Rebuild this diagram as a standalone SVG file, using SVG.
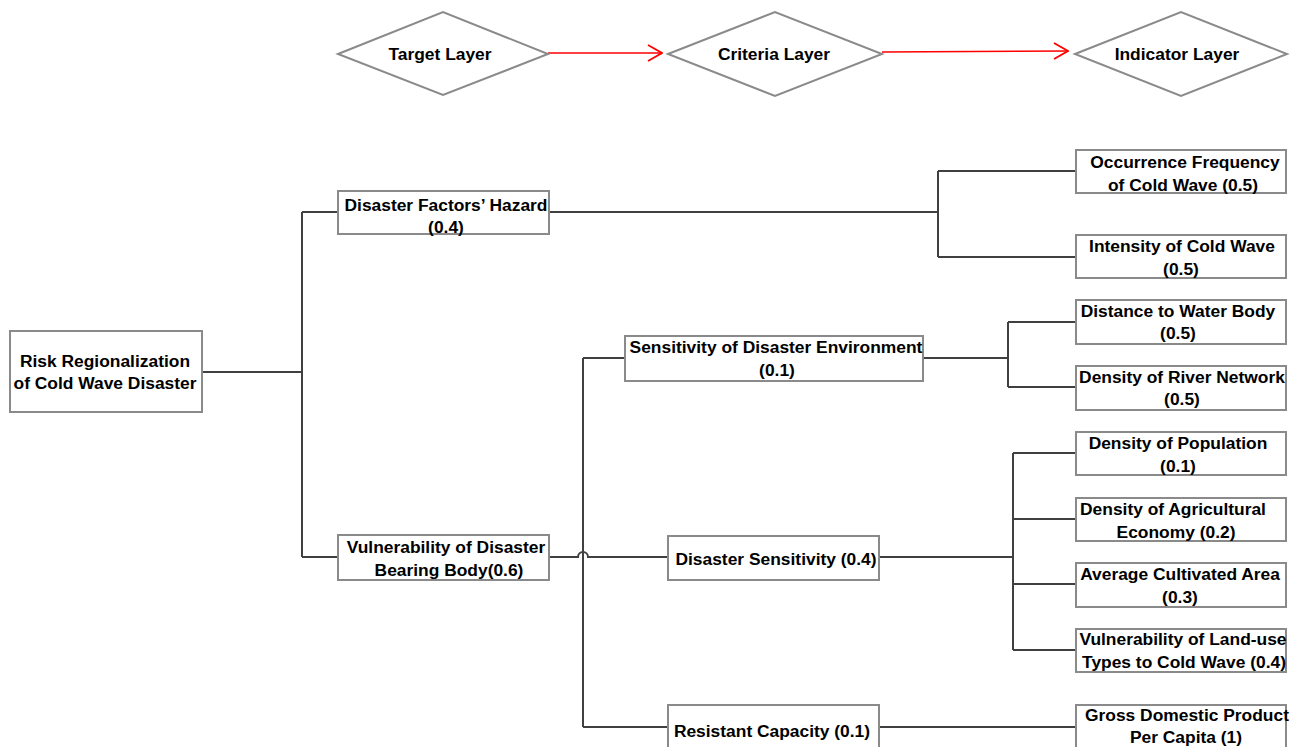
<svg xmlns="http://www.w3.org/2000/svg" width="1291" height="747" viewBox="0 0 1291 747">
<style>
.box{fill:#fff;stroke:#8a8a8a;stroke-width:2}
.dia{fill:#fff;stroke:#8a8a8a;stroke-width:2}
.t{font-family:"Liberation Sans",Arial,sans-serif;font-weight:bold;font-size:17.4px;fill:#000;text-anchor:middle}
.ln{fill:none;stroke:#404040;stroke-width:2}
.ar{fill:none;stroke:#ff0000;stroke-width:1.6}
</style>
<defs>
<marker id="chev" viewBox="0 0 16 18" refX="15" refY="9" markerWidth="16" markerHeight="18" markerUnits="userSpaceOnUse" orient="auto">
<polyline points="1,1 15,9 1,17" fill="none" stroke="#ff0000" stroke-width="1.8"/>
</marker>
</defs>
<rect width="1291" height="747" fill="#fff"/>
<g id="connectors">
<line class="ar" x1="548" y1="53" x2="662" y2="53" marker-end="url(#chev)"/>
<line class="ar" x1="882" y1="52" x2="1068" y2="51" marker-end="url(#chev)"/>
<path class="ln" d="M201,372 H302 M302,212 V557 M302,212 H338 M302,557 H338"/>
<path class="ln" d="M548,212 H938 M938,171 V257 M938,171 H1076 M938,257 H1076"/>
<path class="ln" d="M548,557 H578 A5,5 0 0 1 588,557 H668"/>
<path class="ln" d="M583,358 V727 M583,358 H625 M583,727 H668"/>
<path class="ln" d="M922,358 H1008 M1008,322 V387 M1008,322 H1076 M1008,387 H1076"/>
<path class="ln" d="M879,557 H1013 M1013,453 V650 M1013,453 H1076 M1013,519 H1076 M1013,584 H1076 M1013,650 H1076"/>
<path class="ln" d="M879,727 H1076"/>
</g>
<g id="target-layer"><polygon class="dia" points="338,54 443,12 548,54 443,95"/><text class="t" x="440" y="60">Target Layer</text></g>
<g id="criteria-layer"><polygon class="dia" points="668,54 775,12 882,54 775,96"/><text class="t" x="774" y="60">Criteria Layer</text></g>
<g id="indicator-layer"><polygon class="dia" points="1075,54 1181,12 1287,54 1181,96"/><text class="t" x="1177" y="60">Indicator Layer</text></g>

<g id="root"><rect class="box" x="10" y="331" width="192" height="81"/><text class="t" x="105" y="367">Risk Regionalization</text><text class="t" x="105" y="389">of Cold Wave Disaster</text></g>
<g id="hazard"><rect class="box" x="338" y="191" width="211" height="43"/><text class="t" x="446" y="211">Disaster Factors’ Hazard</text><text class="t" x="446" y="233">(0.4)</text></g>
<g id="vulnerability"><rect class="box" x="338" y="535" width="211" height="45"/><text class="t" x="446" y="553">Vulnerability of Disaster</text><text class="t" x="449" y="576">Bearing Body(0.6)</text></g>
<g id="sens-env"><rect class="box" x="625" y="336" width="298" height="45"/><text class="t" x="776" y="353">Sensitivity of Disaster Environment</text><text class="t" x="777" y="376">(0.1)</text></g>
<g id="dis-sens"><rect class="box" x="668" y="536" width="211" height="44"/><text class="t" x="776" y="565">Disaster Sensitivity (0.4)</text></g>
<g id="resistant"><rect class="box" x="668" y="705" width="211" height="50"/><text class="t" x="772" y="737">Resistant Capacity (0.1)</text></g>

<g id="occurrence"><rect class="box" x="1076" y="150" width="210" height="43"/><text class="t" x="1185" y="168">Occurrence Frequency</text><text class="t" x="1183" y="191">of Cold Wave (0.5)</text></g>
<g id="intensity"><rect class="box" x="1076" y="235" width="210" height="43"/><text class="t" x="1182" y="252">Intensity of Cold Wave</text><text class="t" x="1181" y="275">(0.5)</text></g>
<g id="distance"><rect class="box" x="1076" y="300" width="210" height="44"/><text class="t" x="1178" y="317">Distance to Water Body</text><text class="t" x="1178" y="339">(0.5)</text></g>
<g id="river"><rect class="box" x="1076" y="366" width="210" height="44"/><text class="t" x="1182" y="383">Density of River Network</text><text class="t" x="1182" y="405">(0.5)</text></g>
<g id="population"><rect class="box" x="1076" y="432" width="210" height="43"/><text class="t" x="1178" y="449">Density of Population</text><text class="t" x="1178" y="472">(0.1)</text></g>
<g id="agri"><rect class="box" x="1076" y="498" width="210" height="43"/><text class="t" x="1173" y="515">Density of Agricultural</text><text class="t" x="1176" y="538">Economy (0.2)</text></g>
<g id="cultivated"><rect class="box" x="1076" y="563" width="210" height="44"/><text class="t" x="1180" y="580">Average Cultivated Area</text><text class="t" x="1180" y="603">(0.3)</text></g>
<g id="landuse"><rect class="box" x="1076" y="629" width="210" height="43"/><text class="t" x="1183" y="645">Vulnerability of Land-use</text><text class="t" x="1184" y="668">Types to Cold Wave (0.4)</text></g>
<g id="gdp"><rect class="box" x="1076" y="705" width="210" height="50"/><text class="t" x="1187" y="721">Gross Domestic Product</text><text class="t" x="1186" y="743">Per Capita (1)</text></g>
</svg>
